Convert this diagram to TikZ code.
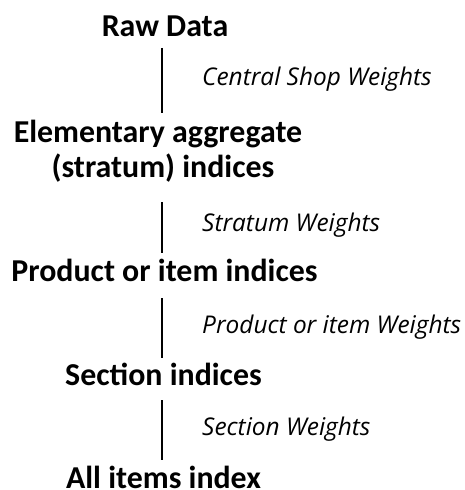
\documentclass[tikz,border=0pt]{standalone}
\usepackage{fontspec}
\setmainfont{Carlito}
\newfontfamily\labfont{Open Sans}
\begin{document}
\begin{tikzpicture}[x=1bp,y=1bp,
  level/.style={font=\fontsize{32}{35}\selectfont\bfseries, anchor=base, inner sep=0pt},
  wlabel/.style={font=\labfont\fontsize{24.5}{27}\selectfont\itshape, anchor=base west, inner sep=0pt},
  link/.style={line width=1.3bp}]
\useasboundingbox (0,0) rectangle (465,-490);
\node[level] (raw) at (165,-37) {Raw Data};
\node[level] (elem) at (158,-143) {Elementary aggregate};
\node[level] (strat) at (163,-178) {(stratum) indices};
\node[level] (prod) at (164.5,-281) {Product or item indices};
\node[level] (sect) at (163.5,-385) {Section indices};
\node[level] (all) at (163.5,-488.5) {All items index};
\node[wlabel] (w1) at (202,-86) {Central Shop Weights};
\node[wlabel] (w2) at (202,-231) {Stratum Weights};
\node[wlabel] (w3) at (202,-333) {Product or item Weights};
\node[wlabel] (w4) at (202,-435) {Section Weights};
\coordinate (l1a) at (162,-48);  \coordinate (l1b) at (162,-113);
\coordinate (l2a) at (162,-202); \coordinate (l2b) at (162,-253);
\coordinate (l3a) at (162,-298); \coordinate (l3b) at (162,-358);
\coordinate (l4a) at (162,-400); \coordinate (l4b) at (162,-460);
\draw[link] (l1a) -- (l1b);
\draw[link] (l2a) -- (l2b);
\draw[link] (l3a) -- (l3b);
\draw[link] (l4a) -- (l4b);
\end{tikzpicture}
\end{document}
